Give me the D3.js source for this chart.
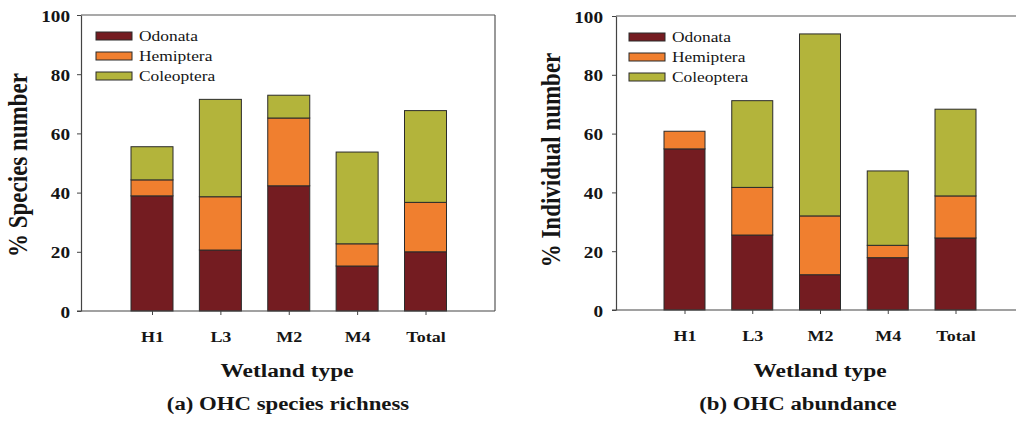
<!DOCTYPE html>
<html>
<head>
<meta charset="utf-8">
<script src="https://cdn.jsdelivr.net/npm/d3@7"></script>
<style>
  body { margin: 0; background: #fff; }
  svg { display: block; }
  text { font-family: "Liberation Serif", "Times New Roman", serif; fill: #151515; }
</style>
</head>
<body>
<svg id="chart" width="1016" height="424"></svg>
<script>
// Wetland categories, taxa and axis ticks
const categories = ["H1", "L3", "M2", "M4", "Total"];
const taxa = ["Odonata", "Hemiptera", "Coleoptera"];
const yTicks = [0, 20, 40, 60, 80, 100];

// (a) % species number per taxon (stack segments)
const richnessOdonata    = [38.9, 20.6, 42.3, 15.2, 20.0];
const richnessHemiptera  = [5.4, 18.0, 22.9, 7.5, 16.7];
const richnessColeoptera = [11.2, 32.9, 7.7, 31.0, 31.0];

// (b) % individual number per taxon (stack segments)
const abundanceOdonata    = [54.8, 25.5, 12.0, 17.8, 24.5];
const abundanceHemiptera  = [6.0, 16.2, 20.0, 4.2, 14.3];
const abundanceColeoptera = [0, 29.5, 61.9, 25.3, 29.5];

const taxonColors = ["#741c21", "#f07f2f", "#b3b43b"];
const SX = 1.2; // horizontal glyph stretch used for all labels

const panels = [
  {
    yTitle: "% Species number", caption: "(a) OHC species richness",
    series: [richnessOdonata, richnessHemiptera, richnessColeoptera],
    left: 81, right: 495, top: 15, bottom: 311, firstX: 152, lastX: 425.5, barW: 42,
    closedFrame: true, tickPad: 7, yTitleX: 27, yTitleY: 165,
    legendX: 96, legendY: 32, xTitleX: 287, captionX: 288
  },
  {
    yTitle: "% Individual number", caption: "(b) OHC abundance",
    series: [abundanceOdonata, abundanceHemiptera, abundanceColeoptera],
    left: 616, right: 1016, top: 16, bottom: 310, firstX: 684.5, lastX: 955.5, barW: 41,
    closedFrame: false, tickPad: 9, yTitleX: 560, yTitleY: 160,
    legendX: 629, legendY: 33, xTitleX: 820, captionX: 798
  }
];

const svg = d3.select("#chart");

function stretchedText(g, x, y, str, size, weight, anchor) {
  return g.append("text")
    .attr("transform", `translate(${x},${y}) scale(${SX},1)`)
    .attr("text-anchor", anchor)
    .style("font-size", size + "px")
    .style("font-weight", weight)
    .text(str);
}

panels.forEach(p => {
  const g = svg.append("g");

  const x = d3.scalePoint().domain(categories).range([p.firstX, p.lastX]);
  const y = d3.scaleLinear().domain([0, 100]).range([p.bottom, p.top]);

  // stacked layout from the per-taxon arrays
  const rows = categories.map((c, i) => {
    const r = { category: c };
    taxa.forEach((t, k) => { r[t] = p.series[k][i]; });
    return r;
  });
  const stacked = d3.stack().keys(taxa)(rows);

  // frame lines (top and, for the closed panel, right side)
  g.append("line")
    .attr("x1", p.left).attr("x2", p.right)
    .attr("y1", p.top).attr("y2", p.top)
    .attr("stroke", "#555").attr("stroke-width", 1.2);
  if (p.closedFrame) {
    g.append("line")
      .attr("x1", p.right).attr("x2", p.right)
      .attr("y1", p.top).attr("y2", p.bottom)
      .attr("stroke", "#555").attr("stroke-width", 1.2);
  }

  // bars
  stacked.forEach((layer, k) => {
    g.append("g").selectAll("rect")
      .data(layer.filter(d => d[1] - d[0] > 0))
      .join("rect")
      .attr("x", d => x(d.data.category) - p.barW / 2)
      .attr("width", p.barW)
      .attr("y", d => y(d[1]))
      .attr("height", d => y(d[0]) - y(d[1]))
      .attr("fill", taxonColors[k])
      .attr("stroke", "#2b2b2b")
      .attr("stroke-width", 1);
  });

  // y axis
  const yAxis = g.append("g")
    .attr("transform", `translate(${p.left},0)`)
    .call(d3.axisLeft(y).tickValues(yTicks).tickSize(4).tickSizeOuter(0).tickPadding(p.tickPad));
  yAxis.select(".domain").attr("stroke", "#444").attr("stroke-width", 1.2);
  yAxis.selectAll(".tick line").attr("stroke", "#444");
  yAxis.selectAll(".tick text")
    .attr("x", null)
    .attr("dy", null)
    .attr("transform", `translate(${-(4 + p.tickPad)},6) scale(${SX},1)`)
    .style("font-size", "16px").style("font-weight", "bold")
    .style("font-family", "'Liberation Serif', serif").attr("fill", "#151515");

  // x axis
  const xAxis = g.append("g")
    .attr("transform", `translate(0,${p.bottom})`)
    .call(d3.axisBottom(x).tickSize(4).tickSizeOuter(0).tickPadding(8));
  xAxis.select(".domain").attr("d", `M${p.left - 4},0H${p.right}`)
    .attr("stroke", "#444").attr("stroke-width", 1.2);
  xAxis.selectAll(".tick line").attr("stroke", "#444");
  xAxis.selectAll(".tick text")
    .attr("y", null).attr("dy", null)
    .attr("transform", `translate(0,31) scale(${SX},1)`)
    .style("font-size", "15px").style("font-weight", "bold")
    .style("font-family", "'Liberation Serif', serif").attr("fill", "#151515");

  // axis titles and caption
  g.append("text")
    .attr("transform", `translate(${p.yTitleX},${p.yTitleY}) rotate(-90) scale(1,${SX})`)
    .attr("text-anchor", "middle")
    .style("font-size", "23px").style("font-weight", "bold")
    .text(p.yTitle);
  stretchedText(g, p.xTitleX, 377, "Wetland type", 19.5, "bold", "middle");
  stretchedText(g, p.captionX, 410, p.caption, 19, "bold", "middle");

  // legend
  const legend = g.append("g");
  taxa.forEach((t, k) => {
    const ly = p.legendY + k * 20;
    legend.append("rect")
      .attr("x", p.legendX).attr("y", ly)
      .attr("width", 36).attr("height", 8)
      .attr("fill", taxonColors[k]).attr("stroke", "#2b2b2b").attr("stroke-width", 1);
    stretchedText(legend, p.legendX + 43, ly + 9, t, 14.5, "normal", "start");
  });
});
</script>
</body>
</html>
